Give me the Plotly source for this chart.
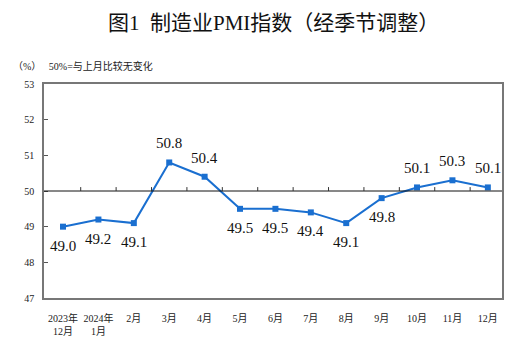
import plotly.graph_objects as go

categories = ["2023年<br>12月", "2024年<br>1月", "2月", "3月", "4月", "5月", "6月",
              "7月", "8月", "9月", "10月", "11月", "12月"]
pmi = [49.0, 49.2, 49.1, 50.8, 50.4, 49.5, 49.5, 49.4, 49.1, 49.8, 50.1, 50.3, 50.1]
label_pos = ["below", "below", "below", "above", "above", "below", "below",
             "below", "below", "below", "above", "above", "above"]
y_ticks = [47, 48, 49, 50, 51, 52, 53]
baseline = 50

xs = list(range(len(categories)))
serif = "'Liberation Serif', 'Noto Sans CJK SC', serif"
blue = "#1a6fd0"

fig = go.Figure()
fig.add_trace(go.Scatter(
    x=xs, y=pmi, mode="lines+markers",
    line=dict(color=blue, width=2),
    marker=dict(symbol="square", size=6, color=blue),
    hoverinfo="skip", showlegend=False,
))

annotations = []
for x, v, p in zip(xs, pmi, label_pos):
    annotations.append(dict(
        x=x, y=v, xref="x", yref="y", text=f"{v:.1f}", showarrow=False,
        yshift=19 if p == "above" else -19,
        font=dict(family=serif, size=15, color="#111"),
    ))

annotations.append(dict(
    xref="paper", yref="paper", x=0.5, y=1, yanchor="middle", xanchor="center",
    yshift=61, text="图1  制造业PMI指数（经季节调整）", showarrow=False,
    font=dict(family=serif, size=21, color="#111"),
))
annotations.append(dict(
    xref="paper", yref="paper", x=0, y=1, xanchor="left", yanchor="middle",
    xshift=-33, yshift=18, text="（%）   50%=与上月比较无变化", showarrow=False,
    font=dict(family=serif, size=10, color="#222"),
))

shapes = [dict(type="line", xref="paper", yref="y", x0=0, x1=1, y0=baseline, y1=baseline,
               line=dict(color="#111", width=1))]
for i in range(len(categories) - 1):
    shapes.append(dict(type="line", xref="x", yref="y", x0=i + 0.5, x1=i + 0.5,
                       y0=baseline, y1=baseline + 0.11, line=dict(color="#333", width=1)))

fig.update_layout(
    width=528, height=341,
    margin=dict(l=44, r=26, t=84, b=43),
    paper_bgcolor="white", plot_bgcolor="white",
    annotations=annotations, shapes=shapes,
    xaxis=dict(
        range=[-0.537, 12.4], tickmode="array", tickvals=xs, ticktext=categories,
        showgrid=False, zeroline=False, showline=True, mirror=True, automargin=False,
        linecolor="#777", linewidth=1.5, ticks="", ticklabelstandoff=10,
        tickfont=dict(family=serif, size=10, color="#222"),
    ),
    yaxis=dict(
        range=[47, 53], tickmode="array", tickvals=y_ticks, automargin=False,
        showgrid=False, zeroline=False, showline=True, mirror=True,
        linecolor="#777", linewidth=1.5, ticks="inside", ticklen=4, tickcolor="#555",
        ticklabelstandoff=6,
        tickfont=dict(family=serif, size=10, color="#222"),
    ),
)

fig.write_html("out.html")
